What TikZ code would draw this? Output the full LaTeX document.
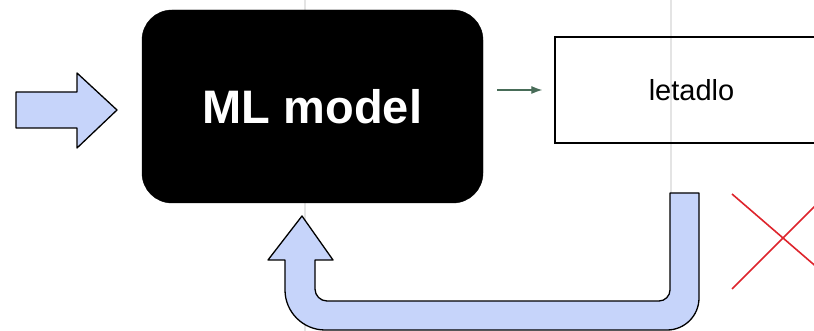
\documentclass[tikz,border=0pt]{standalone}
\usepackage{fontspec}
\setmainfont{Liberation Sans}
\usetikzlibrary{arrows.meta}
\definecolor{arrowfill}{RGB}{198,212,250}
\definecolor{gridgray}{RGB}{228,228,228}
\definecolor{linkgreen}{RGB}{72,108,88}
\definecolor{crossred}{RGB}{222,36,44}
\tikzset{
  bigarrow/.style={draw=black, line width=1.3pt, fill=arrowfill, line join=round},
  modelbox/.style={draw=black, fill=black, rounded corners=30pt, minimum width=341pt, minimum height=193pt, inner sep=0pt, text=white, font=\fontsize{47}{50}\selectfont\bfseries},
  plainbox/.style={draw=black, line width=1.3pt, minimum width=273pt, minimum height=106pt, inner sep=0pt, font=\fontsize{29}{32}\selectfont},
  gridline/.style={draw=gridgray, line width=1.5pt},
  linkarrow/.style={draw=linkgreen, line width=1.2pt, -{Latex[length=11pt,width=8pt]}},
  crossline/.style={draw=crossred, line width=1.6pt}
}
\begin{document}
\begin{tikzpicture}[x=1pt,y=-1pt]
\useasboundingbox (0,0) rectangle (814,331);
\clip (0,0) rectangle (814,331);
\fill[white] (0,0) rectangle (814,331);
% faint guide lines
\draw[gridline] (305,0) -- (305,331);
\draw[gridline] (671,0) -- (671,331);
% nodes
\node[modelbox] (ml) at (312.5,106.5) {ML model};
\node[plainbox] (plane) at (691.5,90) {letadlo};
% connector
\draw[linkarrow, shorten <=14pt, shorten >=12pt] (ml.east |- plane.west) -- (plane.west);
% input arrow
\path[bigarrow] (16,92) -- (77,92) -- (77,73) -- (117,110) -- (77,148) -- (77,128) -- (16,128) -- cycle;
% feedback U arrow
\path[bigarrow] (699,193) -- (699,298) .. controls (699,315.7) and (684.7,330) .. (667,330) -- (325,330)
  .. controls (303,330) and (285,312) .. (285,290) -- (285,260) -- (268,260) -- (302,216) -- (333,260)
  -- (315,260) -- (315,289) .. controls (315,295.6) and (320.4,301) .. (327,301) -- (659,301)
  .. controls (665,301) and (670,296) .. (670,290) -- (670,193) -- cycle;
% red cross
\coordinate (xa) at (732,194);
\coordinate (xb) at (834,282);
\coordinate (xc) at (732,289);
\coordinate (xd) at (834,187);
\draw[crossline] (xa) -- (xb);
\draw[crossline] (xc) -- (xd);
\end{tikzpicture}
\end{document}
